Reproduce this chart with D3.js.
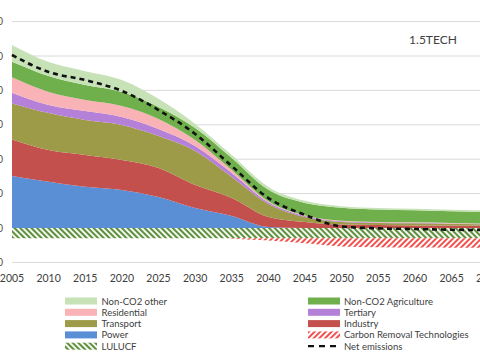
<!DOCTYPE html>
<html><head><meta charset="utf-8">
<script src="https://cdn.jsdelivr.net/npm/d3@7"></script>
<style>
body{margin:0;background:#fff;}
svg{display:block;font-family:Lato,"Open Sans",sans-serif;}
</style>
</head><body>
<svg id="c" width="480" height="360"></svg>
<script>
const years       = [2005,2010,2015,2020,2025,2030,2035,2040,2045,2050,2055,2060,2065,2070];
const power       = [1510,1345,1200,1105, 900, 580, 350,  30,   0,   0,   0,   0,   0,   0];
const industry    = [1065, 920, 920, 870, 845, 670, 525, 290, 175, 100,  85,  75,  75,  65];
const transport   = [1045,1075,1020,1020, 930, 990, 610, 380, 145,  75,  60,  60,  45,  40];
const tertiary    = [ 310, 235, 260, 235, 205, 145, 115,  45,  30,  20,  15,  15,  12,  12];
const residential = [ 450, 380, 320, 320, 290, 175,  85,  30,  15,  15,  15,  15,  12,  12];
const agriculture = [ 455, 465, 435, 405, 350, 350, 350, 335, 365, 380, 365, 350, 340, 335];
const otherNonCO2 = [ 485, 405, 405, 350, 235, 115,  85,  85,  60,  45,  45,  45,  45,  45];
const lulucf      = [-300,-300,-300,-300,-300,-300,-300,-300,-300,-300,-300,-300,-300,-300];
const removal     = [   0,   0,   0,   0,   0,   0, -15, -60,-145,-235,-260,-270,-275,-275];
const netEmissions= [5030,4535,4300,3985,3430,2735,1800, 870, 380,  45, -10, -30, -50, -60];
const yTicks      = [-1000,0,1000,2000,3000,4000,5000,6000];
const xTicks      = [2005,2010,2015,2020,2025,2030,2035,2040,2045,2050,2055,2060,2065,2070];
const title = "1.5TECH";

const keys = ["power","industry","transport","tertiary","residential","agriculture","other","lulucf","removal"];
const series = {power,industry,transport,tertiary,residential,agriculture,other:otherNonCO2,lulucf,removal};
const rows = years.map((y,i)=>{const r={year:y}; keys.forEach(k=>r[k]=series[k][i]); return r;});

const colors = {
  power:"#5a8fd6", industry:"#c4504e", transport:"#9d9a48", tertiary:"#b580d8",
  residential:"#f9b2b6", agriculture:"#70b04c", other:"#c6e2b6",
  lulucf:"url(#hatchLulucf)", removal:"url(#hatchRemoval)"
};
const labels = {
  other:"Non-CO2 other", agriculture:"Non-CO2 Agriculture", residential:"Residential",
  tertiary:"Tertiary", transport:"Transport", industry:"Industry", power:"Power",
  removal:"Carbon Removal Technologies", lulucf:"LULUCF", net:"Net emissions"
};

const svg = d3.select("#c");
const defs = svg.append("defs");
const p1 = defs.append("pattern").attr("id","hatchLulucf").attr("width",4).attr("height",4)
  .attr("patternUnits","userSpaceOnUse").attr("patternTransform","rotate(-45)");
p1.append("rect").attr("width",4).attr("height",4).attr("fill","#f4f8ef");
p1.append("rect").attr("width",2).attr("height",4).attr("fill","#5e8f3e");
const p2 = defs.append("pattern").attr("id","hatchRemoval").attr("width",4).attr("height",4)
  .attr("patternUnits","userSpaceOnUse").attr("patternTransform","rotate(45)");
p2.append("rect").attr("width",4).attr("height",4).attr("fill","#fff");
p2.append("rect").attr("width",2).attr("height",4).attr("fill","#f0524f");

const x = d3.scaleLinear().domain([2005,2070]).range([12,488.2]);
const y = d3.scaleLinear().domain([-1000,6000]).range([262.4,21.6]);

// gridlines
svg.append("g").selectAll("line").data(yTicks).join("line")
  .attr("x1",12).attr("x2",480).attr("y1",d=>y(d)).attr("y2",d=>y(d))
  .attr("stroke","#d9d9d9").attr("stroke-width",1);

// y tick labels (cropped at left edge)
svg.append("g").selectAll("text").data(yTicks).join("text")
  .attr("x",3).attr("y",d=>y(d)+3.5).attr("text-anchor","end")
  .attr("font-size",10.5).attr("fill","#595959").text(d=>d3.format("d")(d));

const stack = d3.stack().keys(keys).offset(d3.stackOffsetDiverging);
const layers = stack(rows);
const area = d3.area().x(d=>x(d.data.year)).y0(d=>y(d[0])).y1(d=>y(d[1])).curve(d3.curveMonotoneX);
svg.append("g").selectAll("path").data(layers).join("path")
  .attr("d",area).attr("fill",d=>colors[d.key]);

// net emissions
const line = d3.line().x((d,i)=>x(years[i])).y(d=>y(d)).curve(d3.curveMonotoneX);
svg.append("path").datum(netEmissions).attr("d",line).attr("fill","none")
  .attr("stroke","#111").attr("stroke-width",2.6).attr("stroke-dasharray","5,4");

// x axis labels
svg.append("g").selectAll("text").data(xTicks).join("text")
  .attr("x",d=>x(d)).attr("y",282).attr("text-anchor","middle")
  .attr("font-size",10.5).attr("fill","#404040").text(d=>d);

// title
svg.append("text").attr("x",433).attr("y",44).attr("text-anchor","middle")
  .attr("font-size",12).attr("fill","#404040").text(title);

// legend
const leftCol = ["other","residential","transport","power","lulucf"];
const rightCol = ["agriculture","tertiary","industry","removal","net"];
const rowY = i=>301+i*11.3;
function drawCol(items, sx, tx){
  const g = svg.append("g");
  items.forEach((k,i)=>{
    const cy = rowY(i);
    if(k==="net"){
      g.append("line").attr("x1",sx).attr("x2",sx+32).attr("y1",cy).attr("y2",cy)
        .attr("stroke","#111").attr("stroke-width",2.2).attr("stroke-dasharray","6,5");
    } else {
      g.append("rect").attr("x",sx).attr("y",cy-3.5).attr("width",32).attr("height",7)
        .attr("fill",colors[k]);
    }
    g.append("text").attr("x",tx).attr("y",cy+3.5).attr("font-size",9.5)
      .attr("fill","#404040").text(labels[k]);
  });
}
drawCol(leftCol,65,101.5);
drawCol(rightCol,308,344);
</script>
</body></html>
